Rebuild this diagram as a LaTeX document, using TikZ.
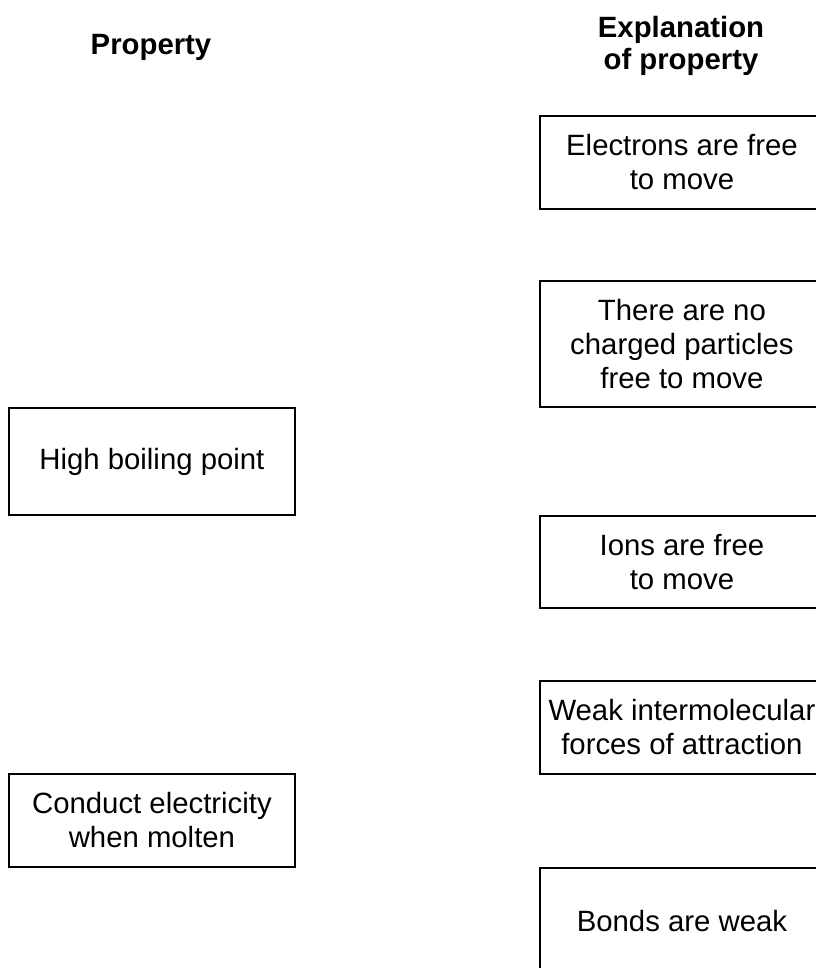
\documentclass[tikz,border=0pt]{standalone}
\usepackage{fontspec}
\setmainfont{Liberation Sans}
\usetikzlibrary{positioning}
\tikzset{
  header/.style={font=\fontsize{22}{24.5}\selectfont\bfseries, align=center, inner sep=0},
  propbox/.style={draw, line width=1.4pt, anchor=north west, align=center,
    minimum width=214.5pt, font=\fontsize{22}{25.5}\selectfont},
  explbox/.style={draw, line width=1.4pt, anchor=north west, align=center,
    minimum width=213pt, font=\fontsize{22}{25.5}\selectfont}
}

\begin{document}
\begin{tikzpicture}[x=0.75pt,y=-0.75pt]
\useasboundingbox (0,0) rectangle (816,968);
%headers
\node [header, anchor=base] (hprop) at (151,54) {Property};
\node [header] (hexpl) at (681,46) {Explanation\\of property};

%property column
\node [propbox, minimum height=80.25pt] (prop1) at (8,407) {High boiling point};
\node [propbox, minimum height=69.75pt] (prop2) at (8,773) {Conduct electricity\\when molten};

%explanation column
\node [explbox, minimum height=69.75pt] (expl1) at (539,115) {Electrons are free\\to move};
\node [explbox, minimum height=94.5pt] (expl2) at (539,280) {There are no\\charged particles\\free to move};
\node [explbox, minimum height=69pt] (expl3) at (539,515) {Ions are free\\to move};
\node [explbox, minimum height=69.75pt] (expl4) at (539,680) {Weak intermolecular\\forces of attraction};
\node [explbox, minimum height=80.25pt] (expl5) at (539,867) {Bonds are weak};

\end{tikzpicture}
\end{document}
